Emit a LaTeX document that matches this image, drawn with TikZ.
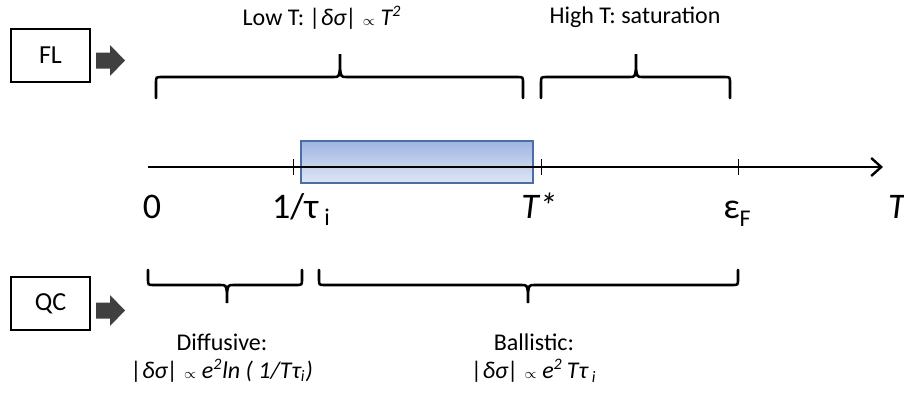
\documentclass[tikz,border=0pt]{standalone}
\usepackage{fontspec}
\setmainfont{Carlito}
\usetikzlibrary{arrows.meta}
\definecolor{bandline}{HTML}{4C6EA6}
\definecolor{bandtop}{HTML}{9FB5E2}
\definecolor{bandbot}{HTML}{DEE6F5}
\definecolor{blockgray}{HTML}{404040}
\begin{document}
\begin{tikzpicture}[x=0.5pt, y=-0.5pt,
    tagbox/.style={draw, line width=1.1pt, minimum width=39.5pt,
                   minimum height=26.5pt, font=\fontsize{13}{15}\selectfont},
    curl/.style={line width=1.3pt, line cap=round},
    axisline/.style={line width=1.2pt},
    tickline/.style={line width=0.5pt},
    band/.style={draw=bandline, line width=1.2pt,
                 top color=bandtop, bottom color=bandbot},
    axlbl/.style={font=\fontsize{18}{20}\selectfont, inner sep=0pt, anchor=base},
    regionlbl/.style={font=\fontsize{12}{15}\selectfont, align=center, inner sep=0pt}]
  \useasboundingbox (0,0) rectangle (904,392);

  % left tags and block arrows
  \node[tagbox] (fl) at (50.5,55.5) {FL};
  \node[tagbox] (qc) at (50.5,303.5) {QC};
  \fill[blockgray] (96,52.5) -- (110,52.5) -- (110,45) -- (125,60.5)
    -- (110,76) -- (110,68.5) -- (96,68.5) -- cycle;
  \fill[blockgray] (96,302.5) -- (110,302.5) -- (110,295) -- (125,310.5)
    -- (110,326) -- (110,318.5) -- (96,318.5) -- cycle;

  % shaded interval and axis
  \draw[band] (301,141) rectangle (533,183);
  \draw[axisline, -{Straight Barb[length=5pt, width=9pt, line width=1.2pt]}]
    (148,167) -- (883,167);
  \foreach \x in {293,541,738}
    \draw[tickline] (\x,159) -- (\x,175);

  \node[axlbl] (zero) at (152,218) {0};
  \node[axlbl] (tau)  at (301,218) {1/τ\,\raisebox{-0.45ex}{\fontsize{12}{12}\selectfont i}};
  \node[axlbl] (tstar) at (539,218) {\itshape T*};
  \node[axlbl] (efermi) at (737,218) {ε\raisebox{-0.5ex}{\fontsize{12}{12}\selectfont F}};
  \node[axlbl] (tvar) at (897,218) {\itshape T};

  % upper braces (FL)
  \draw[curl] (156,98) -- (156,83) .. controls (156,77) .. (162,77) -- (333,77)
    .. controls (339,77) .. (340,68) -- (340,54) -- (340,68)
    .. controls (341,77) .. (347,77) -- (517,77) .. controls (523,77) .. (523,83) -- (523,98);
  \draw[curl] (541,98) -- (541,83) .. controls (541,77) .. (547,77) -- (629,77)
    .. controls (635,77) .. (636,68) -- (636,54) -- (636,68)
    .. controls (637,77) .. (643,77) -- (724,77) .. controls (730,77) .. (730,83) -- (730,98);

  \node[regionlbl] (lowt) at (322,18)
    {Low T: {\itshape |δσ|} {\scriptsize$\propto$} {\itshape T\textsuperscript{2}}};
  \node[regionlbl] (hight) at (635,17) {High T: saturation};

  % lower braces (QC)
  \draw[curl] (148,270) -- (148,279) .. controls (148,285) .. (154,285) -- (220,285)
    .. controls (226,285) .. (227,293) -- (227,303) -- (227,293)
    .. controls (228,285) .. (234,285) -- (296,285) .. controls (302,285) .. (302,279) -- (302,270);
  \draw[curl] (319,270) -- (319,279) .. controls (319,285) .. (325,285) -- (521,285)
    .. controls (527,285) .. (528,293) -- (528,303) -- (528,293)
    .. controls (529,285) .. (535,285) -- (732,285) .. controls (738,285) .. (738,279) -- (738,270);

  \node[regionlbl] (diff) at (222,358)
    {Diffusive:\\[-1pt]{\itshape |δσ|} {\scriptsize$\propto$} {\itshape e\textsuperscript{2}ln ( 1/Tτ\textsubscript{i})}};
  \node[regionlbl] (ball) at (534,358)
    {Ballistic:\\[-1pt]{\itshape |δσ|} {\scriptsize$\propto$} {\itshape e\textsuperscript{2}\,Tτ\,\textsubscript{i}}};
\end{tikzpicture}
\end{document}
